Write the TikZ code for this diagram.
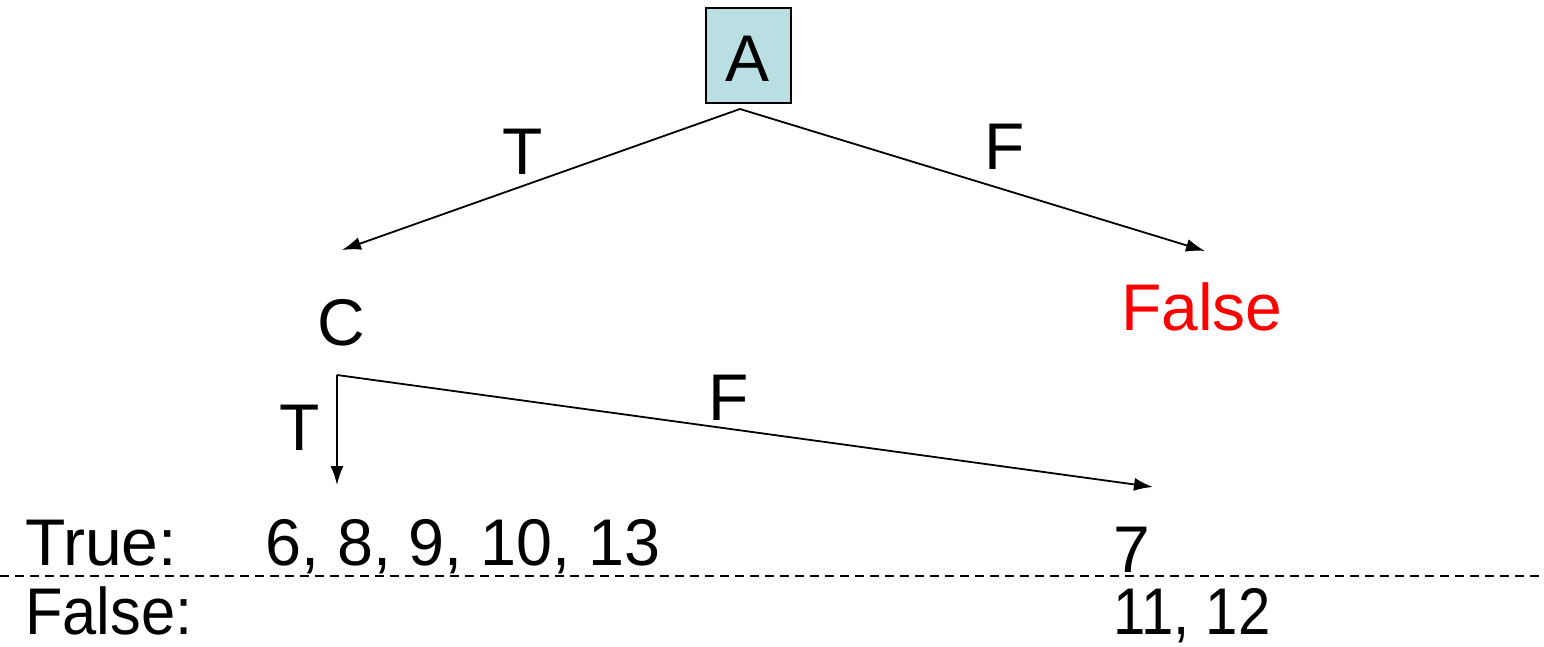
\documentclass[tikz,border=0pt]{standalone}
\usepackage{fontspec}
\setmainfont{Liberation Sans}
\usetikzlibrary{arrows.meta}
\definecolor{boxfill}{HTML}{B9DFE2}
\tikzset{
  lbl/.style={inner sep=0pt, anchor=base, font=\fontsize{66}{70}\selectfont},
  lblw/.style={inner sep=0pt, anchor=base west, text depth=0pt, font=\fontsize{66}{70}\selectfont},
  edge/.style={line width=1.8pt, -{Latex[length=19pt,width=13pt]}},
}
\begin{document}
\begin{tikzpicture}[x=1pt,y=-1pt]
\useasboundingbox (0,0) rectangle (1544,647);
\node[draw, line width=1.5pt, fill=boxfill, minimum width=85pt, minimum height=95pt, inner sep=0pt] (nA) at (748.5,55.5) {};
\node[lbl] (tA) at (748,82) {A};
\coordinate (aS) at (740,109);
\coordinate (cT) at (342,250);
\coordinate (fT) at (1205,251);
\draw[edge] (aS) -- (cT);
\draw[edge] (aS) -- (fT);
\node[lbl] (lT1) at (523,175) {T};
\node[lbl] (lF1) at (1005,170) {F};
\node[lbl] (nC) at (341,345) {C};
\node[lbl, text=red] (nFalse) at (1202,330) {False};
\coordinate (cS) at (337,375);
\coordinate (tT) at (337,485);
\coordinate (t7) at (1153,487);
\draw[edge] (cS) -- (tT);
\draw[edge] (cS) -- (t7);
\node[lbl] (lT2) at (300,450) {T};
\node[lbl] (lF2) at (729,420) {F};
\node[lblw] (rTrue) at (25,565) {True:};
\node[lblw, xscale=0.98] (vTrue) at (265,565) {6, 8, 9, 10, 13};
\node[lblw, xscale=0.93] (rFalse) at (25,634) {False:};
\node[lblw] (v7) at (1113,572) {7};
\node[lblw, xscale=0.88] (v1112) at (1113,634) {11, 12};
\coordinate (dL) at (0,576);
\coordinate (dR) at (1544,576);
\draw[line width=1.5pt, dash pattern=on 9pt off 6pt] (dL) -- (dR);
\end{tikzpicture}
\end{document}
